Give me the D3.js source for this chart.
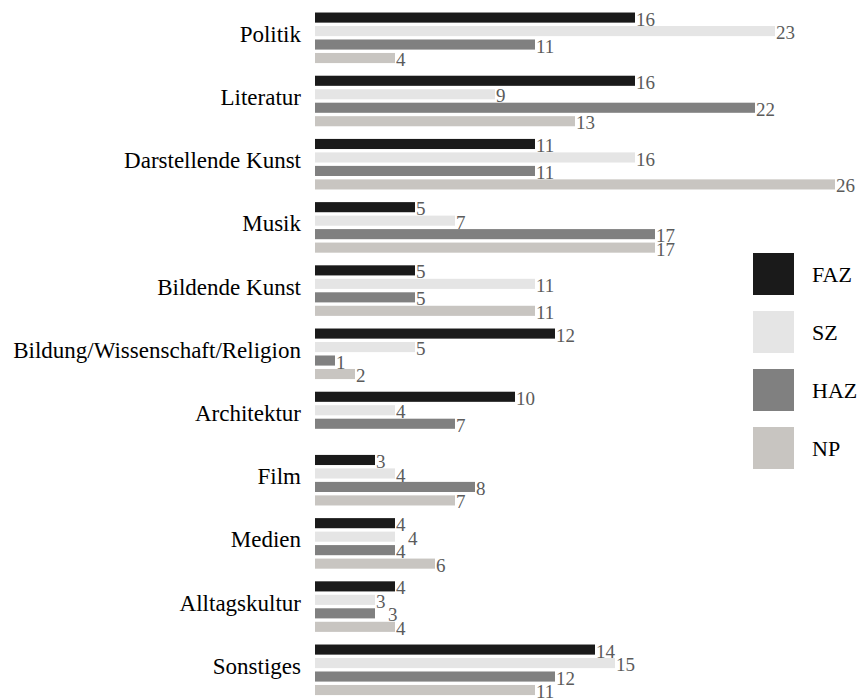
<!DOCTYPE html>
<html>
<head>
<meta charset="utf-8">
<script src="https://cdn.jsdelivr.net/npm/d3@7"></script>
<style>
  html, body { margin: 0; padding: 0; background: #fff; }
  svg { display: block; }
</style>
</head>
<body>
<svg id="chart" width="863" height="698"></svg>
<script>
// Themenfelder der Feuilletons, Anzahl der Artikel je Zeitung
const categories = [
  "Politik", "Literatur", "Darstellende Kunst", "Musik", "Bildende Kunst",
  "Bildung/Wissenschaft/Religion", "Architektur", "Film", "Medien",
  "Alltagskultur", "Sonstiges"
];
const seriesNames = ["FAZ", "SZ", "HAZ", "NP"];
const fazValues = [16, 16, 11, 5, 5, 12, 10, 3, 4, 4, 14];
const szValues  = [23, 9, 16, 7, 11, 5, 4, 4, 4, 3, 15];
const hazValues = [11, 22, 11, 17, 5, 1, 7, 8, 4, 3, 12];
const npValues  = [4, 13, 26, 17, 11, 2, null, 7, 6, 4, 11];
const seriesValues = [fazValues, szValues, hazValues, npValues];
const seriesColors = ["#1a1a1a", "#e5e5e5", "#808080", "#c8c5c1"];

const serif = '"Liberation Serif", "Times New Roman", "DejaVu Serif", serif';
const svg = d3.select("#chart");

const x = d3.scaleLinear().domain([0, 26]).range([315, 835]);

const y = d3.scaleBand()
  .domain(categories)
  .range([6.2, 701.4])
  .paddingInner(0.2)
  .paddingOuter(0.1);

const ySub = d3.scaleBand()
  .domain(seriesNames)
  .range([0, y.bandwidth()])
  .paddingInner(0.25);

const color = d3.scaleOrdinal().domain(seriesNames).range(seriesColors);

// one record per bar; a one-digit value label is nudged right when it
// would sit exactly on top of the previous label in the same group
const rows = categories.map((c, i) => {
  const items = seriesNames
    .map((s, j) => ({ series: s, value: seriesValues[j][i] }))
    .filter(d => d.value != null);
  let prev = null;
  items.forEach(d => {
    d.lx = x(d.value) + 1;
    d.shifted = false;
    if (prev && !prev.shifted && d.value < 10 &&
        Math.abs(x(prev.value) - x(d.value)) < 1) {
      d.lx += 12;
      d.shifted = true;
    }
    prev = d;
  });
  return { category: c, items };
});

const groups = svg.append("g").selectAll("g")
  .data(rows)
  .join("g")
  .attr("transform", d => `translate(0,${y(d.category)})`);

groups.selectAll("rect")
  .data(d => d.items)
  .join("rect")
  .attr("x", x(0))
  .attr("y", d => ySub(d.series))
  .attr("width", d => x(d.value) - x(0))
  .attr("height", ySub.bandwidth())
  .attr("fill", d => color(d.series));

groups.selectAll("text.value")
  .data(d => d.items)
  .join("text")
  .attr("class", "value")
  .attr("x", d => d.lx)
  .attr("y", d => ySub(d.series) + ySub.bandwidth() + 3)
  .style("font-family", serif)
  .attr("font-size", 19)
  .attr("fill", "#5b5b5b")
  .text(d => d.value);

// category labels, right-aligned left of the bars
svg.append("g").selectAll("text")
  .data(categories)
  .join("text")
  .attr("x", 301)
  .attr("y", d => y(d) + y.bandwidth() / 2 + 4)
  .attr("text-anchor", "end")
  .style("font-family", serif)
  .attr("font-size", 23)
  .attr("fill", "#000")
  .text(d => d);

// legend
const legend = svg.append("g").attr("transform", "translate(753,253)");
const legendItems = legend.selectAll("g")
  .data(seriesNames)
  .join("g")
  .attr("transform", (d, i) => `translate(0,${i * 58})`);

legendItems.append("rect")
  .attr("width", 41)
  .attr("height", 42)
  .attr("fill", d => color(d));

legendItems.append("text")
  .attr("x", 59)
  .attr("y", 21 + 8)
  .style("font-family", serif)
  .attr("font-size", 22)
  .attr("fill", "#000")
  .text(d => d);
</script>
</body>
</html>
